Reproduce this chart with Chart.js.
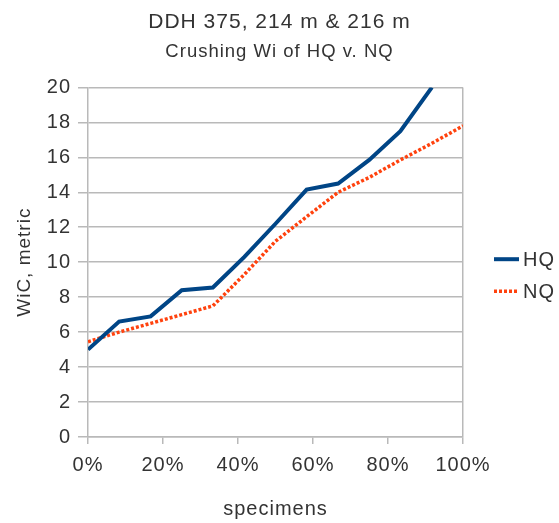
<!DOCTYPE html>
<html>
<head>
<meta charset="utf-8">
<script src="https://cdn.jsdelivr.net/npm/chart.js@4/dist/chart.umd.min.js"></script>
<style>
  html, body { margin: 0; padding: 0; background: #ffffff; }
  #wrap { width: 559px; height: 523px; }
</style>
</head>
<body>
<div id="wrap"><canvas id="chart" width="559" height="523"></canvas></div>
<script>
// Specimen rank as a fraction of the sample set
const hqShare = [0, 0.083, 0.167, 0.25, 0.333, 0.417, 0.5, 0.583, 0.667, 0.75, 0.833, 0.917];
const nqShare = [0, 0.083, 0.167, 0.25, 0.333, 0.417, 0.5, 0.583, 0.667, 0.75, 0.833, 0.917, 1];

// Crushing work index (WiC, metric) per specimen, sorted ascending
const hqWi = [5.0, 6.6, 6.9, 8.4, 8.55, 10.3, 12.2, 14.15, 14.5, 15.85, 17.5, 20.0];
const nqWi = [5.45, 6.0, 6.5, 7.0, 7.5, 9.3, 11.2, 12.6, 14.0, 14.85, 15.85, 16.8, 17.8];

const seriesNames = ['HQ', 'NQ'];
const xTickValues = [0, 0.2, 0.4, 0.6, 0.8, 1];
const yTickValues = [0, 2, 4, 6, 8, 10, 12, 14, 16, 18, 20];

const FONT = '"Liberation Sans", Arial, sans-serif';
const TEXT = '#333333';
const GRID = '#b9b9b9';

const toPoints = (xs, ys) => ys.map((y, i) => ({ x: xs[i], y }));

// Slightly spaced text throughout
const spacing = {
  id: 'spacing',
  beforeUpdate(chart) { chart.ctx.letterSpacing = '1px'; },
  beforeDraw(chart) { chart.ctx.letterSpacing = '1px'; }
};

// Legend on the right: line sample followed by the series name
const sideLegend = {
  id: 'sideLegend',
  afterDraw(chart) {
    const ctx = chart.ctx;
    const area = chart.chartArea;
    const mid = (area.top + area.bottom) / 2;
    const startY = mid - 3;
    chart.data.datasets.forEach((ds, i) => {
      const y = startY + i * 32;
      ctx.save();
      ctx.strokeStyle = ds.borderColor;
      ctx.lineWidth = ds.borderWidth;
      ctx.setLineDash(ds.borderDash || []);
      ctx.beginPath();
      ctx.moveTo(area.right + 31, y);
      ctx.lineTo(area.right + 56, y);
      ctx.stroke();
      ctx.setLineDash([]);
      ctx.letterSpacing = '1px';
      ctx.fillStyle = TEXT;
      ctx.font = '20px ' + FONT;
      ctx.textAlign = 'left';
      ctx.textBaseline = 'middle';
      ctx.fillText(ds.label, area.right + 60, y + 1);
      ctx.restore();
    });
  }
};

new Chart(document.getElementById('chart'), {
  type: 'line',
  data: {
    datasets: [
      {
        label: seriesNames[0],
        data: toPoints(hqShare, hqWi),
        borderColor: '#004586',
        backgroundColor: '#004586',
        borderWidth: 4,
        pointRadius: 0,
        tension: 0,
        fill: false
      },
      {
        label: seriesNames[1],
        data: toPoints(nqShare, nqWi),
        borderColor: '#ff420e',
        backgroundColor: '#ff420e',
        borderWidth: 3.5,
        borderDash: [3, 2],
        borderCapStyle: 'butt',
        pointRadius: 0,
        tension: 0,
        fill: false
      }
    ]
  },
  options: {
    responsive: false,
    animation: false,
    devicePixelRatio: 1,
    layout: { padding: 0 },
    plugins: {
      legend: { display: false },
      tooltip: { enabled: false },
      title: {
        display: true,
        text: 'DDH 375, 214 m & 216 m',
        color: TEXT,
        font: { family: FONT, size: 21, weight: 'normal' },
        padding: { top: 10, bottom: 0 }
      },
      subtitle: {
        display: true,
        text: 'Crushing Wi of HQ v. NQ',
        color: TEXT,
        font: { family: FONT, size: 18.5, weight: 'normal' },
        padding: { top: 6, bottom: 24 }
      }
    },
    scales: {
      x: {
        type: 'linear',
        min: 0,
        max: 1,
        afterFit(scale) { scale.height = 86; },
        afterBuildTicks(scale) { scale.ticks = xTickValues.map(v => ({ value: v })); },
        ticks: {
          color: TEXT,
          padding: 9,
          maxRotation: 0,
          font: { family: FONT, size: 20 },
          callback: v => Math.round(v * 100) + '%'
        },
        grid: {
          color: ctx => (ctx.tick && ctx.tick.value === 1) ? GRID : 'rgba(0,0,0,0)',
          tickColor: GRID,
          tickLength: 7,
          lineWidth: 1.5
        },
        border: { display: true, color: GRID, width: 1.5 },
        title: {
          display: true,
          text: 'specimens',
          color: TEXT,
          font: { family: FONT, size: 20 },
          padding: { top: 0, bottom: 2 }
        }
      },
      y: {
        min: 0,
        max: 20,
        afterFit(scale) { scale.width = 88; },
        afterBuildTicks(scale) { scale.ticks = yTickValues.map(v => ({ value: v })); },
        ticks: {
          color: TEXT,
          padding: 7,
          font: { family: FONT, size: 20 }
        },
        grid: {
          color: GRID,
          tickColor: GRID,
          tickLength: 10,
          lineWidth: 1.5
        },
        border: { display: true, color: GRID, width: 1.5 },
        title: {
          display: true,
          text: 'WiC, metric',
          color: TEXT,
          font: { family: FONT, size: 19 },
          padding: { top: 13, bottom: 0 }
        }
      },
      // empty right-hand band that holds the series key
      keyBand: {
        type: 'linear',
        position: 'right',
        display: true,
        min: 0,
        max: 1,
        afterFit(scale) { scale.width = 96; },
        ticks: { display: false },
        grid: { display: false, drawTicks: false },
        border: { display: false }
      }
    }
  },
  plugins: [spacing, sideLegend]
});
</script>
</body>
</html>
